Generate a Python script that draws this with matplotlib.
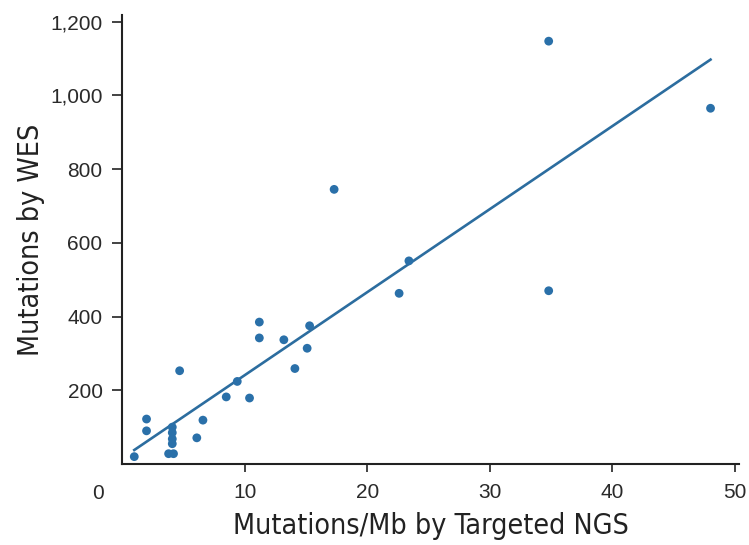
import matplotlib
matplotlib.use("Agg")
import matplotlib.pyplot as plt
from matplotlib.ticker import FuncFormatter

# Data
ngs_mb = [1.0, 2.0, 2.0, 3.8, 4.2, 4.1, 4.1, 4.1, 4.1, 4.7, 6.1, 6.6, 8.5, 9.4,
          10.4, 11.2, 11.2, 13.2, 14.1, 15.1, 15.3, 17.3, 22.6, 23.4, 34.8, 34.8, 48.0]
wes_mut = [20, 90, 122, 28, 28, 55, 68, 85, 100, 253, 71, 119, 182, 224,
           179, 385, 342, 337, 259, 314, 375, 745, 463, 551, 470, 1147, 965]
fit_x = [1.0, 48.0]
fit_y = [38, 1097]
x_ticks = [10, 20, 30, 40, 50]
y_ticks = [200, 400, 600, 800, 1000, 1200]

tick_font = ["Liberation Sans", "DejaVu Sans"]
label_font = ["DejaVu Sans"]
dot_color = "#2a70a9"
line_color = "#2c6d9f"
axis_color = "#222222"
text_color = "#2a2a2a"

fig = plt.figure(figsize=(7.49, 5.45), dpi=100)
ax = fig.add_axes([0.1629, 0.1486, 0.8234, 0.8239])

ax.plot(fit_x, fit_y, color=line_color, linewidth=1.9, zorder=2)
ax.scatter(ngs_mb, wes_mut, s=40, color=dot_color, edgecolors="none", zorder=3)

ax.set_xlim(0, 50.3)
ax.set_ylim(0, 1218)
ax.set_xticks(x_ticks)
ax.set_yticks(y_ticks)
ax.yaxis.set_major_formatter(FuncFormatter(lambda v, p: f"{int(v):,}"))

for side in ("top", "right"):
    ax.spines[side].set_visible(False)
for side in ("left", "bottom"):
    ax.spines[side].set_color(axis_color)
    ax.spines[side].set_linewidth(1.5)

ax.tick_params(axis="x", direction="out", length=6, width=1.2, pad=8,
               colors=axis_color, labelcolor=text_color, labelsize=15)
ax.tick_params(axis="y", direction="out", length=7, width=1.2, pad=7,
               colors=axis_color, labelcolor=text_color, labelsize=15)
for lab in ax.get_xticklabels() + ax.get_yticklabels():
    lab.set_family(tick_font)

ax.annotate("0", xy=(0, 0), xycoords="data", xytext=(-24, -29),
            textcoords="offset pixels", ha="center", va="center",
            fontsize=15, color=text_color, family=tick_font)

ax.set_xlabel("Mutations/Mb by Targeted NGS", fontsize=20.5, color=axis_color,
              family=label_font, fontstretch="condensed")
ax.set_ylabel("Mutations by WES", fontsize=20.5, color=axis_color,
              family=label_font, fontstretch="condensed")
ax.xaxis.set_label_coords(0.5, -0.107)
ax.yaxis.set_label_coords(-0.125, 0.5)

fig.savefig("out.png", dpi=100)
